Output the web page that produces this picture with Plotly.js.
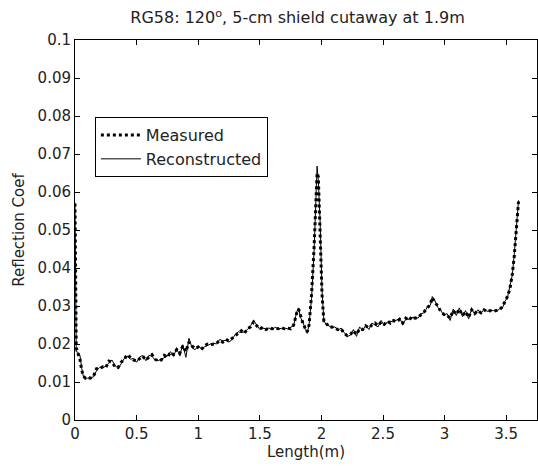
<!DOCTYPE html>
<html>
<head>
<meta charset="utf-8">
<script src="https://cdn.plot.ly/plotly-3.0.1.min.js"></script>
<style>html,body{margin:0;padding:0;background:#fff;}#chart{width:538px;height:466px;}</style>
</head>
<body>
<div id="chart"></div>
<script>
const lengthM = [0.000,0.005,0.010,0.025,0.040,0.055,0.070,0.085,0.100,0.125,0.150,0.175,0.200,0.225,0.250,0.275,0.300,0.325,0.350,0.375,0.400,0.425,0.450,0.475,0.500,0.525,0.550,0.575,0.600,0.625,0.650,0.675,0.700,0.725,0.750,0.775,0.800,0.825,0.850,0.875,0.900,0.925,0.950,0.975,1.000,1.025,1.050,1.075,1.100,1.125,1.150,1.175,1.200,1.225,1.250,1.275,1.300,1.325,1.350,1.375,1.400,1.425,1.450,1.475,1.500,1.525,1.550,1.575,1.600,1.625,1.650,1.675,1.700,1.725,1.750,1.775,1.800,1.815,1.830,1.850,1.870,1.885,1.900,1.920,1.940,1.955,1.965,1.975,1.990,2.005,2.020,2.040,2.060,2.085,2.110,2.135,2.160,2.185,2.210,2.235,2.260,2.285,2.310,2.335,2.360,2.385,2.410,2.435,2.460,2.485,2.510,2.535,2.560,2.585,2.610,2.635,2.660,2.685,2.710,2.735,2.760,2.785,2.810,2.835,2.860,2.885,2.900,2.920,2.945,2.970,2.995,3.020,3.045,3.070,3.095,3.120,3.145,3.170,3.195,3.220,3.245,3.270,3.295,3.320,3.345,3.370,3.395,3.420,3.445,3.470,3.490,3.510,3.530,3.550,3.565,3.580,3.595,3.600];

const measured = [0.057,0.030,0.019,0.0175,0.016,0.013,0.0115,0.011,0.0112,0.011,0.0115,0.0135,0.0135,0.014,0.0138,0.0155,0.0152,0.014,0.0138,0.0152,0.016,0.0172,0.0165,0.0158,0.0155,0.0162,0.0168,0.0158,0.0166,0.0172,0.0160,0.0155,0.0158,0.0170,0.0165,0.0178,0.0172,0.0185,0.0175,0.0195,0.0180,0.0205,0.0195,0.0188,0.0192,0.0185,0.0195,0.0200,0.0198,0.0200,0.0202,0.0210,0.0205,0.0212,0.0208,0.0215,0.0222,0.0230,0.0235,0.0228,0.0240,0.0245,0.0258,0.0248,0.0240,0.0244,0.0238,0.0242,0.0240,0.0242,0.0240,0.0243,0.0240,0.0242,0.0240,0.0250,0.0282,0.0292,0.0275,0.0255,0.0240,0.0232,0.0250,0.0330,0.0450,0.0580,0.0650,0.0640,0.0500,0.0330,0.0260,0.0255,0.0245,0.0245,0.0242,0.0238,0.0240,0.0228,0.0222,0.0225,0.0235,0.0225,0.0240,0.0238,0.0248,0.0242,0.0250,0.0255,0.0248,0.0258,0.0252,0.0260,0.0255,0.0262,0.0258,0.0265,0.0255,0.0268,0.0262,0.0272,0.0268,0.0270,0.0278,0.0285,0.0295,0.0305,0.0322,0.0310,0.0300,0.0285,0.0278,0.0275,0.0268,0.0288,0.0278,0.0292,0.0275,0.0285,0.0270,0.0290,0.0280,0.0288,0.0282,0.0290,0.0285,0.0288,0.0286,0.0288,0.0290,0.0298,0.0310,0.0325,0.0345,0.0385,0.0430,0.0490,0.0545,0.0575];

const reconstructed = [0.057,0.040,0.018,0.0178,0.017,0.0135,0.0112,0.0110,0.0110,0.0112,0.0113,0.013,0.0138,0.0137,0.0142,0.015,0.0158,0.0143,0.0136,0.0148,0.0162,0.0168,0.0160,0.0162,0.0152,0.0166,0.0170,0.0156,0.0170,0.0168,0.0158,0.0156,0.0160,0.0166,0.0168,0.0180,0.0168,0.0188,0.0170,0.0198,0.0165,0.0215,0.0190,0.0185,0.0195,0.0188,0.0192,0.0198,0.0200,0.0202,0.0200,0.0212,0.0208,0.0210,0.0205,0.0212,0.0225,0.0232,0.0230,0.0232,0.0238,0.0248,0.0262,0.0250,0.0238,0.0242,0.0240,0.0242,0.0238,0.0244,0.0240,0.0241,0.0242,0.0240,0.0243,0.0248,0.0285,0.0295,0.0270,0.0258,0.0238,0.0228,0.0252,0.0320,0.0440,0.0560,0.0668,0.0630,0.0520,0.0340,0.0262,0.0250,0.0248,0.0242,0.0245,0.0236,0.0242,0.0230,0.0220,0.0223,0.0238,0.0220,0.0245,0.0235,0.0250,0.0238,0.0255,0.0250,0.0245,0.0262,0.0248,0.0258,0.0260,0.0258,0.0262,0.0268,0.0252,0.0265,0.0265,0.0270,0.0270,0.0268,0.0280,0.0282,0.0298,0.0302,0.0325,0.0315,0.0296,0.0288,0.0274,0.0280,0.0262,0.0292,0.0275,0.0295,0.0272,0.0288,0.0266,0.0292,0.0278,0.0290,0.0280,0.0292,0.0286,0.0287,0.0288,0.0286,0.0292,0.0295,0.0312,0.0322,0.0348,0.0382,0.0435,0.0492,0.0550,0.0578];

const seriesNames = ["Measured", "Reconstructed"];
const xTicks = [0, 0.5, 1, 1.5, 2, 2.5, 3, 3.5];
const xTickText = ["0", "0.5", "1", "1.5", "2", "2.5", "3", "3.5"];
const yTicks = [0, 0.01, 0.02, 0.03, 0.04, 0.05, 0.06, 0.07, 0.08, 0.09, 0.1];
const yTickText = ["0", "0.01", "0.02", "0.03", "0.04", "0.05", "0.06", "0.07", "0.08", "0.09", "0.1"];

const font = "DejaVu Sans, Arial, sans-serif";

const traces = [
  {x: lengthM, y: measured, name: seriesNames[0], type: "scatter", mode: "lines",
   line: {color: "#000", width: 3, dash: "dot"}},
  {x: lengthM, y: reconstructed, name: seriesNames[1], type: "scatter", mode: "lines",
   line: {color: "#000", width: 1}}
];

const axisCommon = {
  showline: true, linecolor: "#000", linewidth: 1, mirror: "ticks",
  ticks: "inside", ticklen: 5, tickcolor: "#000", tickwidth: 1,
  showgrid: false, zeroline: false,
  tickfont: {family: font, size: 15, color: "#222"}
};

const layout = {
  width: 538, height: 466,
  margin: {l: 75, r: 1, t: 40, b: 46},
  paper_bgcolor: "#fff", plot_bgcolor: "#fff",
  showlegend: true,
  title: {text: "RG58: 120<sup>o</sup>, 5-cm shield cutaway at 1.9m",
          font: {family: font, size: 16, color: "#222"}, x: 0.553, xanchor: "center", y: 0.962, yanchor: "middle"},
  xaxis: Object.assign({}, axisCommon, {
    range: [0, 3.75], tickvals: xTicks, ticktext: xTickText,
    title: {text: "Length(m)", font: {family: font, size: 15, color: "#222"}, standoff: 3}
  }),
  yaxis: Object.assign({}, axisCommon, {
    range: [0, 0.1], tickvals: yTicks, ticktext: yTickText,
    title: {text: "Reflection Coef", font: {family: font, size: 15, color: "#222"}, standoff: 9}
  }),
  legend: {
    x: 0.043, y: 0.797, xanchor: "left", yanchor: "top",
    bgcolor: "#fff", bordercolor: "#000", borderwidth: 1,
    font: {family: font, size: 16, color: "#222"},
    tracegroupgap: 0, itemwidth: 40
  }
};

Plotly.newPlot("chart", traces, layout, {displayModeBar: false, staticPlot: true});
</script>
</body>
</html>
